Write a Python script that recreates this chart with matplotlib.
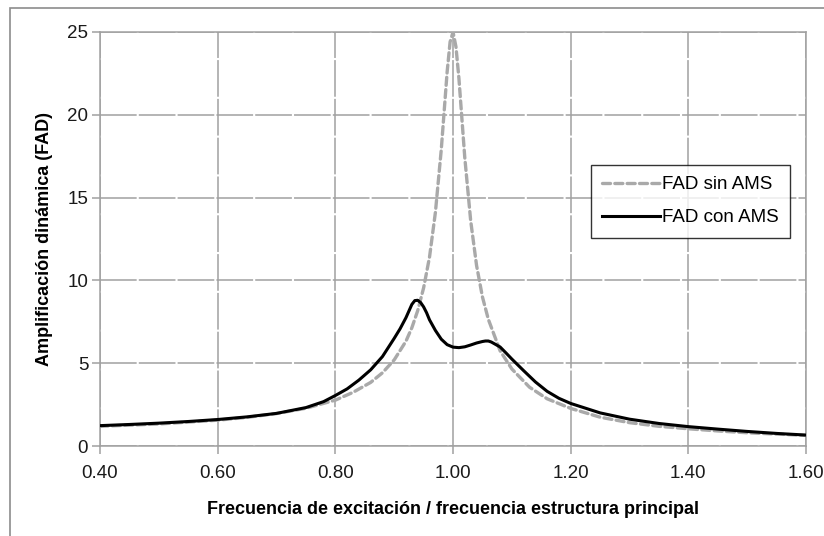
import matplotlib.pyplot as plt
from matplotlib.patches import Rectangle

plt.rcParams['font.family'] = ['Liberation Sans', 'DejaVu Sans']

# FAD sin AMS (curva gris discontinua)
x_sin = [0.40, 0.50, 0.60, 0.65, 0.70, 0.75, 0.80, 0.83, 0.86, 0.88, 0.90,
         0.92, 0.93, 0.94, 0.95, 0.96, 0.97, 0.98, 0.99, 0.995, 1.00, 1.005,
         1.01, 1.02, 1.03, 1.04, 1.05, 1.06, 1.08, 1.10, 1.13, 1.16, 1.20,
         1.25, 1.30, 1.35, 1.40, 1.45, 1.50, 1.55, 1.60]
y_sin = [1.19, 1.33, 1.56, 1.73, 1.96, 2.28, 2.77, 3.24, 3.84, 4.42, 5.20,
         6.33, 7.14, 8.18, 9.55, 11.4, 14.1, 17.9, 22.6, 24.4, 25.0, 24.1,
         22.2, 17.4, 13.6, 10.9, 9.0, 7.65, 5.75, 4.65, 3.55, 2.85, 2.27,
         1.74, 1.41, 1.19, 1.04, 0.91, 0.80, 0.72, 0.64]

# FAD con AMS (curva negra continua)
x_con = [0.40, 0.45, 0.50, 0.55, 0.60, 0.65, 0.70, 0.75, 0.78, 0.80, 0.82,
         0.84, 0.86, 0.88, 0.89, 0.90, 0.91, 0.92, 0.925, 0.93, 0.935, 0.94,
         0.945, 0.95, 0.955, 0.96, 0.97, 0.98, 0.99, 1.00, 1.01, 1.02, 1.03,
         1.04, 1.05, 1.055, 1.06, 1.065, 1.07, 1.08, 1.09, 1.10, 1.12, 1.14,
         1.16, 1.18, 1.20, 1.25, 1.30, 1.35, 1.40, 1.45, 1.50, 1.55, 1.60]
y_con = [1.23, 1.30, 1.38, 1.48, 1.60, 1.76, 1.97, 2.32, 2.68, 3.05, 3.45,
         3.98, 4.60, 5.40, 5.95, 6.50, 7.08, 7.75, 8.15, 8.55, 8.78, 8.80,
         8.66, 8.40, 8.05, 7.62, 6.98, 6.45, 6.12, 5.97, 5.94, 5.99, 6.10,
         6.22, 6.31, 6.34, 6.34, 6.28, 6.18, 5.98, 5.62, 5.25, 4.55, 3.87,
         3.30, 2.88, 2.57, 2.00, 1.62, 1.36, 1.17, 1.02, 0.88, 0.76, 0.66]

x_ticks = [0.40, 0.60, 0.80, 1.00, 1.20, 1.40, 1.60]
y_ticks = [0, 5, 10, 15, 20, 25]

fig = plt.figure(figsize=(8.24, 5.36), dpi=100)
ax = fig.add_axes([0.1214, 0.1679, 0.8568, 0.7724])

# marco exterior del gráfico (solo borde izquierdo y superior visibles)
fig.patches.append(Rectangle((10 / 824, -0.1), 1.2, 1 - 8 / 536 + 0.1,
                             transform=fig.transFigure, fill=False,
                             edgecolor='#8c8c8c', linewidth=1.2))

grid_col = '#a0a0a0'
for xv in x_ticks:
    ax.axvline(xv, color=grid_col, linewidth=1.1, dashes=(24, 1.4), zorder=1)
for yv in y_ticks:
    ax.axhline(yv, color=grid_col, linewidth=1.1, dashes=(24, 1.4), zorder=1)

ax.plot(x_sin, y_sin, color='#a9a9a9', linewidth=2.4, dashes=(2.4, 1.3),
        dash_capstyle='round', label='FAD sin AMS', zorder=3)
ax.plot(x_con, y_con, color='black', linewidth=2.2, solid_joinstyle='round',
        label='FAD con AMS', zorder=4)

ax.set_xlim(0.40, 1.60)
ax.set_ylim(0, 25)
ax.set_xticks(x_ticks)
ax.set_xticklabels(['%.2f' % v for v in x_ticks])
ax.set_yticks(y_ticks)
for s in ax.spines.values():
    s.set_color(grid_col)
    s.set_linewidth(1.1)
ax.tick_params(axis='both', colors=grid_col, labelcolor='#1a1a1a',
               labelsize=13.5, length=5.5, width=1.1)
ax.tick_params(axis='x', pad=8)
ax.tick_params(axis='y', pad=3)

ax.set_xlabel('Frecuencia de excitación / frecuencia estructura principal',
              fontsize=13, fontweight='bold', labelpad=14)
ax.set_ylabel('Amplificación dinámica (FAD)', fontsize=13,
              fontweight='bold', labelpad=10)

leg = ax.legend(loc='upper left', bbox_to_anchor=(0.695, 0.679),
                frameon=True, fancybox=False, fontsize=13.5,
                handlelength=3.1, handletextpad=0.1, borderpad=0.6,
                labelspacing=0.85, borderaxespad=0)
leg.get_frame().set_edgecolor('black')
leg.get_frame().set_linewidth(1.0)

fig.savefig('out.png', dpi=100)
